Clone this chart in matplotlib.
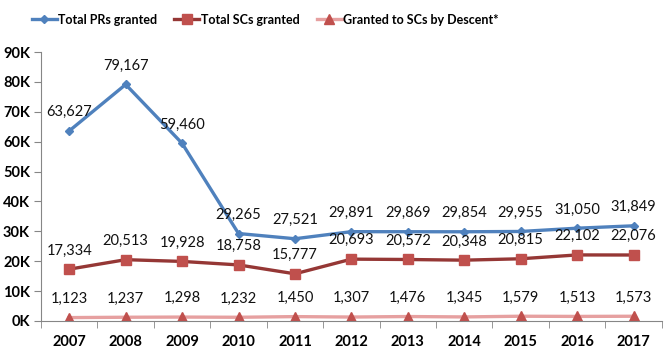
import numpy as np
import matplotlib
matplotlib.use('Agg')
import matplotlib.pyplot as plt
from matplotlib.ticker import FuncFormatter

# ---- data ----
YEARS = ['2007', '2008', '2009', '2010', '2011', '2012', '2013', '2014', '2015', '2016', '2017']
PR_GRANTED = [63627, 79167, 59460, 29265, 27521, 29891, 29869, 29854, 29955, 31050, 31849]
SC_GRANTED = [17334, 20513, 19928, 18758, 15777, 20693, 20572, 20348, 20815, 22102, 22076]
SC_DESCENT = [1123, 1237, 1298, 1232, 1450, 1307, 1476, 1345, 1579, 1513, 1573]

plt.rcParams['font.family'] = ['Lato', 'DejaVu Sans']

fig = plt.figure(figsize=(6.66, 3.57), dpi=100)
ax = fig.add_axes([0.0616, 0.101, 0.932, 0.753])

x = np.arange(len(YEARS))
series = [
    (PR_GRANTED, 'Total PRs granted', '#4F81BD', '#4F81BD', 'D', 4.5),
    (SC_GRANTED, 'Total SCs granted', '#953735', '#C0504D', 's', 7),
    (SC_DESCENT, 'Granted to SCs by Descent*', '#E6A0A0', '#C0504D', '^', 7),
]
for vals, label, lc, mc, mk, ms in series:
    ax.plot(x, vals, color=lc, linewidth=2.4, marker=mk, markersize=ms,
            markerfacecolor=mc, markeredgecolor=mc, label=label)
    for xi, v in zip(x, vals):
        ax.annotate(f'{v:,}', (xi, v), xytext=(0, 13.5), textcoords='offset points',
                    ha='center', va='center', fontsize=10.5, color='#111111')

ax.set_xlim(-0.5, len(YEARS) - 0.5)
ax.set_ylim(0, 90000)
ax.set_yticks(np.arange(0, 90001, 10000))
ax.yaxis.set_major_formatter(FuncFormatter(lambda v, p: f'{int(v / 1000)}K'))
ax.set_xticks(x)
ax.set_xticklabels(YEARS)
ax.set_xticks(np.arange(-0.5, len(YEARS)), minor=True)
ax.tick_params(axis='x', which='major', length=0, pad=10)
ax.tick_params(axis='x', which='minor', length=5, direction='out', color='#868686')
ax.tick_params(axis='y', length=5, direction='out', color='#868686', pad=3)
for lbl in ax.get_xticklabels() + ax.get_yticklabels():
    lbl.set_fontweight('bold')
    lbl.set_fontsize(10.5)

for side in ['top', 'right']:
    ax.spines[side].set_visible(False)
for side in ['left', 'bottom']:
    ax.spines[side].set_color('#868686')

fig.legend(loc='center', bbox_to_anchor=(0.398, 0.945), ncol=3, frameon=False,
           prop={'weight': 'bold', 'size': 9}, handlelength=2.0,
           handletextpad=0.1, columnspacing=1.4)

fig.savefig('out.png', dpi=100)
